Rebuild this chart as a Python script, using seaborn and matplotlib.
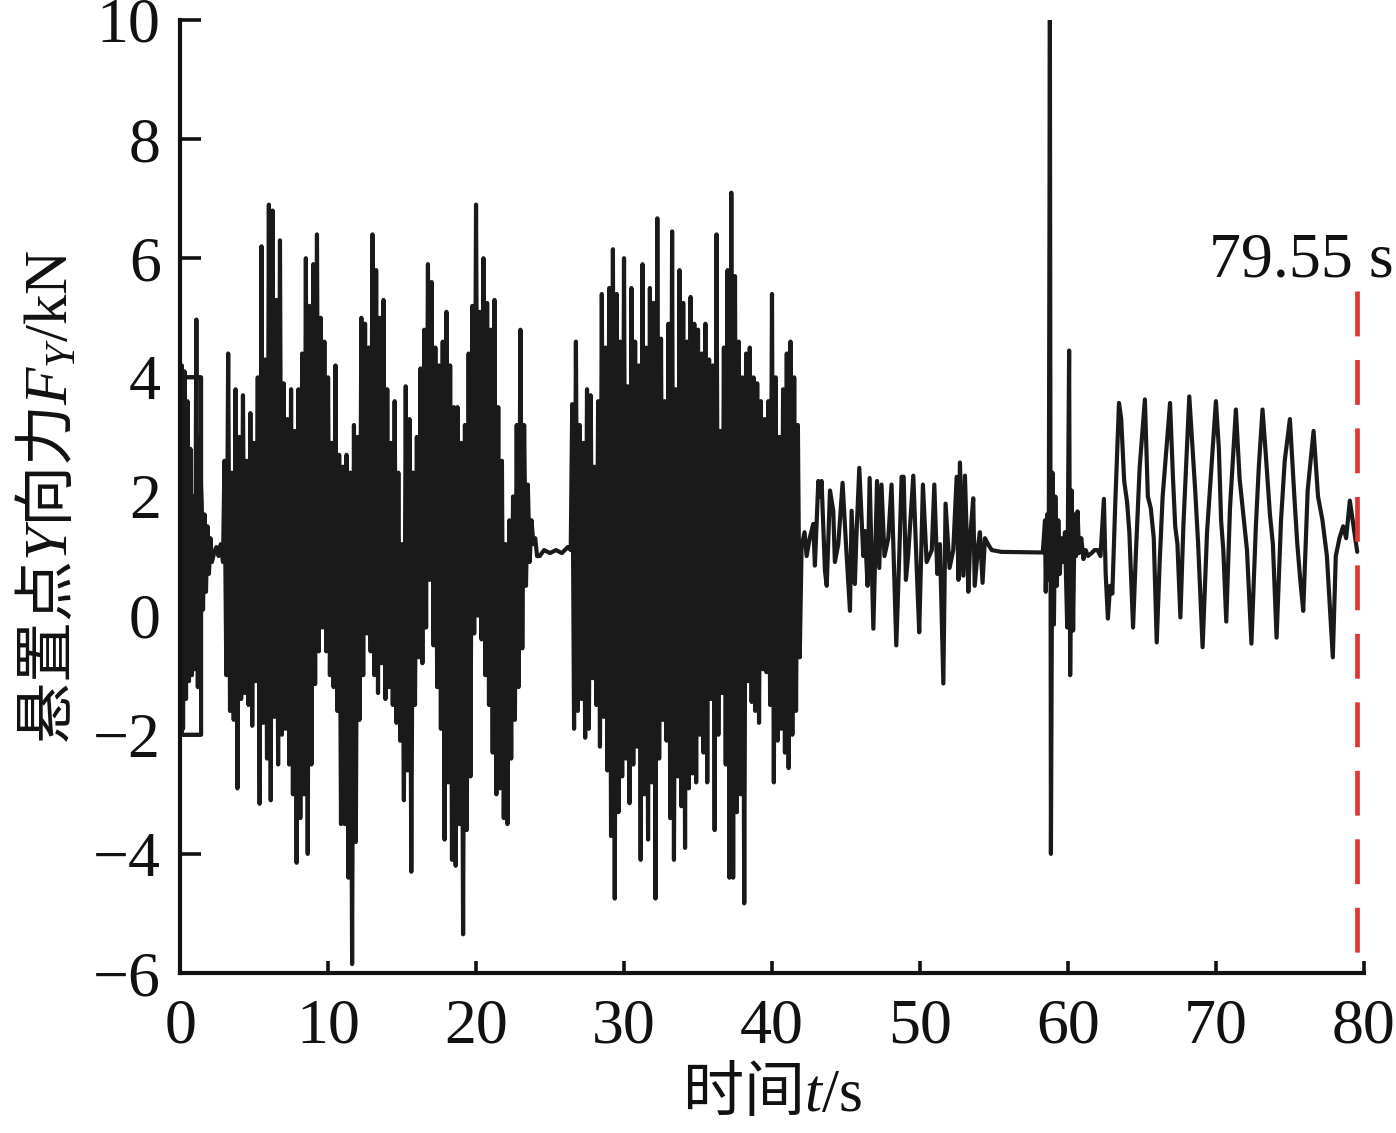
"""Mount point Y-direction force time history (悬置点Y向力)."""

import matplotlib
matplotlib.use("Agg")
import matplotlib.pyplot as plt
import pandas as pd
import seaborn as sns

# --- data --------------------------------------------------------------------
# start-up transient (the line draws a small box before oscillating)
init_t = [0.0, 0.12, 1.42, 1.42, 0.12, 0.12, 0.2, 0.3, 0.4, 0.5, 0.6, 0.7,
          0.8, 0.9, 1.0, 1.1, 1.2, 1.3, 1.45, 1.55, 1.65, 1.75, 1.85, 1.95,
          2.05, 2.15, 2.3, 2.45, 2.6, 2.75, 2.9]
init_f = [1.2, 4.0, 4.0, -2.0, -2.0, 4.2, -1.9, 4.1, -1.4, 3.6, -1.1, 2.8,
          -1.0, 2.0, -0.9, 4.97, -1.2, 3.0, 1.9, 0.1, 1.7, 0.4, 1.5, 0.7,
          1.3, 0.9, 1.05, 1.15, 1.0, 1.2, 0.9]

# dense burst 1: peaks / troughs every 0.25 s from 3.0 s
burst1_start = 3.0
burst1_hi = [2.6, 4.4, 2.4, 3.8, 3.0, 3.7, 2.6, 3.4, 2.9, 4.0,
             6.2, 4.3, 6.9, 6.8, 5.3, 6.3, 3.9, 3.3, 3.8, 3.1,
             3.8, 4.4, 6.0, 5.2, 5.9, 6.4, 5.0, 4.6, 4.0, 2.9,
             4.2, 2.7, 2.5, 2.7, 2.4, 3.2, 3.0, 5.0, 4.9, 4.5,
             6.4, 5.8, 5.0, 5.3, 3.8, 2.9, 3.6, 2.4, 1.2, 3.85,
             3.3, 2.4, 3.0, 4.15, 4.8, 5.9, 5.6, 4.5, 4.2, 4.6,
             5.1, 4.2, 3.5, 3.5, 2.9, 3.2, 4.4, 5.2, 6.9, 5.1,
             6.0, 5.25, 4.8, 5.3, 3.5, 2.6, 1.2, 1.6, 2.0, 3.2,
             4.8, 3.2, 2.2, 1.6, 1.3]
burst1_lo = [-1.0, -1.6, -1.75, -2.9, -1.4, -1.3, -1.5, -1.85, -1.1, -3.16,
             -1.8, -2.4, -3.1, -1.7, -2.5, -2.0, -1.9, -2.5, -3.0, -4.15,
             -3.4, -3.0, -4.0, -2.5, -1.15, -0.6, -0.2, -0.6, -1.0, -1.2,
             -1.6, -3.5, -3.5, -4.4, -5.85, -3.8, -1.75, -1.0, -0.3, -0.6,
             -1.0, -1.3, -0.8, -1.4, -1.2, -1.5, -1.8, -2.1, -3.1, -2.6,
             -4.3, -1.5, -0.7, -0.8, -0.2, 0.6, -0.5, -1.2, -1.9, -3.76,
             -2.8, -4.1, -4.2, -3.5, -5.35, -3.6, -2.7, -0.3, 0.0, -0.4,
             -1.0, -1.5, -2.3, -3.0, -2.9, -3.4, -3.5, -2.4, -1.75, -1.2,
             -0.55, 0.5, 0.9, 1.2, 1.0]

calm1_t = [24.3, 24.6, 25.0, 25.4, 25.8, 26.2, 26.4]
calm1_f = [1.0, 1.1, 1.05, 1.1, 1.05, 1.15, 1.1]

# dense burst 2
burst2_start = 26.5
burst2_hi = [3.55, 4.6, 3.2, 2.9, 3.8, 3.7, 2.5, 3.6, 5.4, 4.5,
             5.5, 6.15, 5.4, 4.6, 6.0, 3.85, 5.5, 4.6, 4.2, 5.9,
             4.5, 5.5, 5.25, 6.67, 4.65, 3.6, 4.9, 6.45, 3.8, 5.8,
             5.25, 4.6, 5.35, 4.9, 4.8, 4.4, 4.9, 4.3, 4.2, 6.4,
             3.1, 4.5, 5.8, 7.1, 5.7, 4.6, 4.0, 4.4, 4.5, 4.0,
             3.9, 3.6, 3.3, 3.6, 5.4, 4.0, 3.0, 3.8, 4.4, 4.6,
             4.0, 3.2]
burst2_lo = [-1.9, -1.6, -1.4, -2.05, -1.9, -1.05, -1.5, -2.2, -1.7, -2.6,
             -3.7, -4.75, -3.3, -2.7, -2.4, -3.15, -2.5, -2.2, -4.1, -3.0,
             -3.76, -2.8, -4.75, -2.4, -1.75, -2.1, -3.4, -4.1, -2.7, -3.2,
             -3.9, -2.9, -2.65, -2.8, -2.0, -2.3, -2.8, -1.4, -3.6, -2.0,
             -1.3, -2.5, -4.4, -4.4, -3.3, -3.0, -4.83, -1.1, -1.45, -1.6,
             -1.8, -0.9, -0.95, -1.5, -2.8, -2.1, -1.9, -2.3, -2.56, -2.0,
             -1.6, -0.7]

# moderate vibration 42 - 55 s, then calm
mid_t = [42.0, 42.2, 42.34, 42.55, 42.79, 42.9, 43.13, 43.24, 43.35, 43.58,
         43.7, 43.92, 44.14, 44.25, 44.48, 44.77, 45.0, 45.27, 45.38, 45.6,
         45.7, 45.9, 46.17, 46.28, 46.46, 46.6, 46.85, 47.1, 47.25, 47.4,
         47.6, 47.86, 48.08, 48.4, 48.6, 48.76, 48.9, 49.05, 49.2, 49.55,
         49.78, 49.95, 50.2, 50.45, 50.8, 50.97, 51.17, 51.35, 51.58, 51.73,
         52.0, 52.25, 52.48, 52.6, 52.7, 52.93, 53.04, 53.27, 53.42, 53.6,
         53.7, 53.94, 54.05, 54.23, 54.39, 54.6, 54.85, 55.5, 58.3]
mid_f = [1.15, 1.4, 1.0, 1.3, 1.54, 0.84, 2.26, 2.0, 2.26, 0.75,
         0.5, 2.1, 1.76, 0.9, 1.2, 2.23, 1.2, 0.08, 1.76, 0.53,
         1.3, 2.48, 1.0, 1.42, 0.5, 2.31, -0.22, 2.26, 0.8, 2.2,
         1.0, 1.3, 2.2, -0.5, 1.0, 2.33, 2.33, 0.6, 1.0, 2.35,
         0.8, -0.28, 2.2, 0.9, 1.1, 2.2, 0.7, 1.2, -1.14, 1.88,
         0.8, 1.1, 2.33, 0.6, 2.57, 0.67, 2.35, 0.4, 1.4, 1.97,
         0.5, 1.2, 1.4, 0.55, 1.3, 1.2, 1.1, 1.07, 1.06]

# impact near 58.8 s
shock_t = [58.45, 58.5, 58.6, 58.7, 58.78, 58.85, 58.95, 59.05, 59.15, 59.25,
           59.35, 59.45, 59.55, 59.65, 59.8, 59.95, 60.08, 60.15, 60.25, 60.35,
           60.45, 60.55, 60.65, 60.75, 60.9, 61.05, 61.2, 61.35, 61.6, 61.8,
           62.0, 62.2]
shock_f = [1.6, 0.4, 1.7, 0.6, 10.0, -4.0, 2.4, -0.15, 2.0, 0.5,
           1.6, 0.7, 1.3, 0.9, 1.4, -0.2, 4.45, -1.0, 2.1, -0.25,
           1.7, 1.0, 1.75, 1.05, 1.3, 0.95, 1.1, 1.0, 1.05, 1.1,
           1.1, 1.0]

# periodic response up to failure at 79.55 s
tail_t = [62.43, 62.55, 62.7, 62.85, 63.0, 63.2, 63.45, 63.6, 63.8, 64.0,
          64.15, 64.4, 64.6, 64.85, 65.2, 65.4, 65.6, 65.8, 66.0, 66.2,
          66.4, 66.9, 67.1, 67.25, 67.4, 67.6, 67.8, 68.0, 68.2, 68.4,
          68.6, 68.8, 69.1, 69.4, 69.7, 70.0, 70.2, 70.35, 70.5, 70.7,
          70.95, 71.35, 71.6, 71.85, 72.1, 72.4, 72.7, 72.9, 73.15, 73.4,
          73.65, 73.85, 74.1, 74.4, 74.65, 75.0, 75.3, 75.5, 75.7, 75.9,
          76.2, 76.6, 76.9, 77.2, 77.5, 77.9, 78.1, 78.35, 78.6, 78.8,
          79.05, 79.3, 79.55]
tail_f = [1.96, 0.7, -0.05, 0.5, 0.37, 1.9, 3.57, 3.3, 2.26, 1.9,
          1.4, -0.2, 1.1, 2.5, 3.63, 2.0, 1.8, 1.3, -0.45, 0.9,
          2.0, 3.57, 2.3, 1.5, 1.2, -0.03, 1.5, 2.6, 3.68, 2.9,
          2.1, 1.2, -0.53, 1.4, 2.5, 3.6, 2.8, 1.6, 1.1, -0.1,
          1.8, 3.46, 2.3, 1.7, 1.1, -0.47, 1.5, 2.5, 3.46, 2.6,
          1.7, 1.2, -0.37, 1.6, 2.6, 3.3, 2.0, 1.2, 0.6, 0.08,
          2.1, 3.1, 2.0, 1.6, 1.0, -0.7, 1.0, 1.3, 1.5, 1.3,
          1.93, 1.5, 1.07]

fail_time = 79.55
fail_label = "79.55 s"
x_ticks = [0, 10, 20, 30, 40, 50, 60, 70, 80]
y_ticks = [-6, -4, -2, 0, 2, 4, 6, 8, 10]
x_label = r"时间$t\mathsf{/s}$"
y_label = r"悬置点$Y$向力$F_Y\mathsf{/kN}$"


def interleave(start, step, hi, lo):
    """Alternate peak / trough readings on their time grid."""
    t, f = [], []
    for i, (h, l) in enumerate(zip(hi, lo)):
        t += [start + i * step, start + (i + 0.5) * step]
        f += [h, l]
    return t, f


b1_t, b1_f = interleave(burst1_start, 0.25, burst1_hi, burst1_lo)
b2_t, b2_f = interleave(burst2_start, 0.25, burst2_hi, burst2_lo)

t_all = init_t + b1_t + calm1_t + b2_t + mid_t + shock_t + tail_t
f_all = init_f + b1_f + calm1_f + b2_f + mid_f + shock_f + tail_f
df = pd.DataFrame({"t": t_all, "F": f_all})

# --- styling -----------------------------------------------------------------
sns.set_theme(style="ticks")
plt.rcParams["font.family"] = ["Liberation Serif", "Noto Sans CJK SC"]
plt.rcParams["mathtext.fontset"] = "custom"
plt.rcParams["mathtext.rm"] = "Liberation Serif"
plt.rcParams["mathtext.sf"] = "Liberation Serif"
plt.rcParams["mathtext.it"] = "Liberation Serif:italic"
plt.rcParams["axes.unicode_minus"] = True

fig = plt.figure(figsize=(13.96, 11.33), dpi=100)
ax = fig.add_axes([0.129, 0.1412, 0.848, 0.8412])

sns.lineplot(data=df, x="t", y="F", sort=False, estimator=None,
             color="#1a1a1a", linewidth=3.0, ax=ax)

# failure marker, drawn top-down so the dash pattern starts at the top
ax.plot([fail_time, fail_time], [5.45, -6.0], color="#e03535",
        linewidth=3.4, dashes=(9.5, 5), zorder=3)
ax.text(75.8, 5.95, fail_label, fontsize=46, ha="center", va="center",
        color="#111111")

ax.set_xlim(0, 80)
ax.set_ylim(-6, 10)
ax.set_xticks(x_ticks)
ax.set_yticks(y_ticks)
ax.tick_params(axis="both", direction="in", width=2.6, colors="#111111",
               labelsize=46)
ax.tick_params(axis="y", length=15, pad=14)
ax.tick_params(axis="x", length=9, pad=18)
for side in ("top", "right"):
    ax.spines[side].set_visible(False)
for side in ("left", "bottom"):
    ax.spines[side].set_linewidth(3.0)
    ax.spines[side].set_color("#111111")

cjk = "Noto Sans CJK SC"
ax.set_xlabel(x_label, fontsize=44, family=cjk, labelpad=5, color="#111111")
ax.set_ylabel(y_label, fontsize=44, family=cjk, labelpad=8, color="#111111")

fig.savefig("out.png", dpi=100)
